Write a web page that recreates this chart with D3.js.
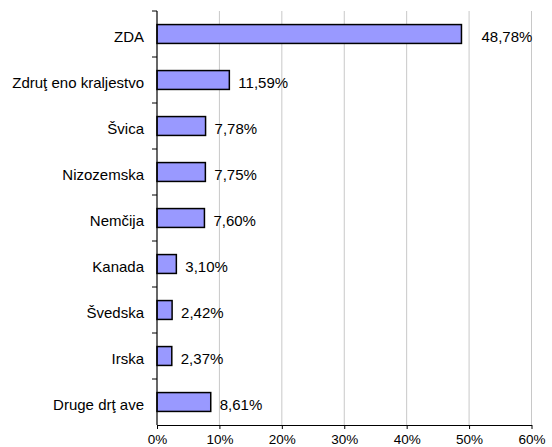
<!DOCTYPE html>
<html>
<head>
<meta charset="utf-8">
<script src="https://cdn.jsdelivr.net/npm/d3@7"></script>
<style>
  body { margin: 0; background: #fff; }
  text { font-family: "Liberation Sans", Arial, sans-serif; fill: #000; }
</style>
</head>
<body>
<div class="chart"></div>
<script>
// chart data
var countries = ["ZDA", "Zdruţ eno kraljestvo", "Švica", "Nizozemska", "Nemčija",
  "Kanada", "Švedska", "Irska", "Druge drţ ave"];
var shares = [48.78, 11.59, 7.78, 7.75, 7.60, 3.10, 2.42, 2.37, 8.61];
var xTicks = [0, 10, 20, 30, 40, 50, 60];

var svgWidth = 552;
var svgHeight = 447;

var margin = {
  top: 11,
  right: 20,
  bottom: 22,
  left: 157
};

var width = 531.5 - margin.left;
var height = 425 - margin.top;

var svg = d3.select(".chart")
  .append("svg")
  .attr("width", svgWidth)
  .attr("height", svgHeight);

var chartGroup = svg.append("g")
  .attr("transform", `translate(${margin.left}, ${margin.top})`);

var xScale = d3.scaleLinear()
  .domain([0, 60])
  .range([0, width]);

var yScale = d3.scaleBand()
  .domain(countries)
  .range([0, height])
  .paddingInner(0.59)
  .paddingOuter(0.295);

var fmt = d => d.toFixed(2).replace(".", ",") + "%";

// vertical gridlines
chartGroup.selectAll("line.grid")
  .data(xTicks.slice(1))
  .enter()
  .append("line")
  .attr("class", "grid")
  .attr("x1", d => xScale(d))
  .attr("x2", d => xScale(d))
  .attr("y1", 0)
  .attr("y2", height)
  .attr("stroke", "#c8c8c8")
  .attr("stroke-width", 1);

// bars
chartGroup.selectAll("rect.bar")
  .data(shares)
  .enter()
  .append("rect")
  .attr("class", "bar")
  .attr("x", xScale(0))
  .attr("y", (d, i) => yScale(countries[i]))
  .attr("width", d => xScale(d) - xScale(0))
  .attr("height", yScale.bandwidth())
  .attr("fill", "#9999ff")
  .attr("stroke", "#000")
  .attr("stroke-width", 1.5);

// value labels
chartGroup.selectAll("text.val")
  .data(shares)
  .enter()
  .append("text")
  .attr("class", "val")
  .attr("x", (d, i) => xScale(d) + (i === 0 ? 20 : 9))
  .attr("y", (d, i) => yScale(countries[i]) + yScale.bandwidth() / 2)
  .attr("dy", "0.52em")
  .style("font-size", "15px")
  .text(fmt);

// bottom axis
var bottomAxis = d3.axisBottom(xScale)
  .tickValues(xTicks)
  .tickFormat(d => d + "%")
  .tickSizeInner(4)
  .tickSizeOuter(0)
  .tickPadding(5);

var xAxis = chartGroup.append("g")
  .attr("transform", `translate(0, ${height})`)
  .call(bottomAxis);
xAxis.select(".domain").attr("stroke", "#000").attr("stroke-width", 1.2);
xAxis.selectAll("text").style("font-size", "13.5px");

// left axis with category labels
var leftGroup = chartGroup.append("g");
leftGroup.append("line")
  .attr("x1", 0).attr("x2", 0)
  .attr("y1", 0).attr("y2", height)
  .attr("stroke", "#000")
  .attr("stroke-width", 1.2);

var step = yScale.step();
leftGroup.selectAll("line.tick")
  .data(d3.range(countries.length))
  .enter()
  .append("line")
  .attr("class", "tick")
  .attr("x1", -5).attr("x2", 0)
  .attr("y1", d => yScale(countries[d]) - yScale.paddingInner() * step / 2)
  .attr("y2", d => yScale(countries[d]) - yScale.paddingInner() * step / 2)
  .attr("stroke", "#000");

leftGroup.selectAll("text.cat")
  .data(countries)
  .enter()
  .append("text")
  .attr("class", "cat")
  .attr("x", -13)
  .attr("y", d => yScale(d) + yScale.bandwidth() / 2)
  .attr("dy", "0.52em")
  .attr("text-anchor", "end")
  .style("font-size", "15px")
  .text(d => d);
</script>
</body>
</html>
